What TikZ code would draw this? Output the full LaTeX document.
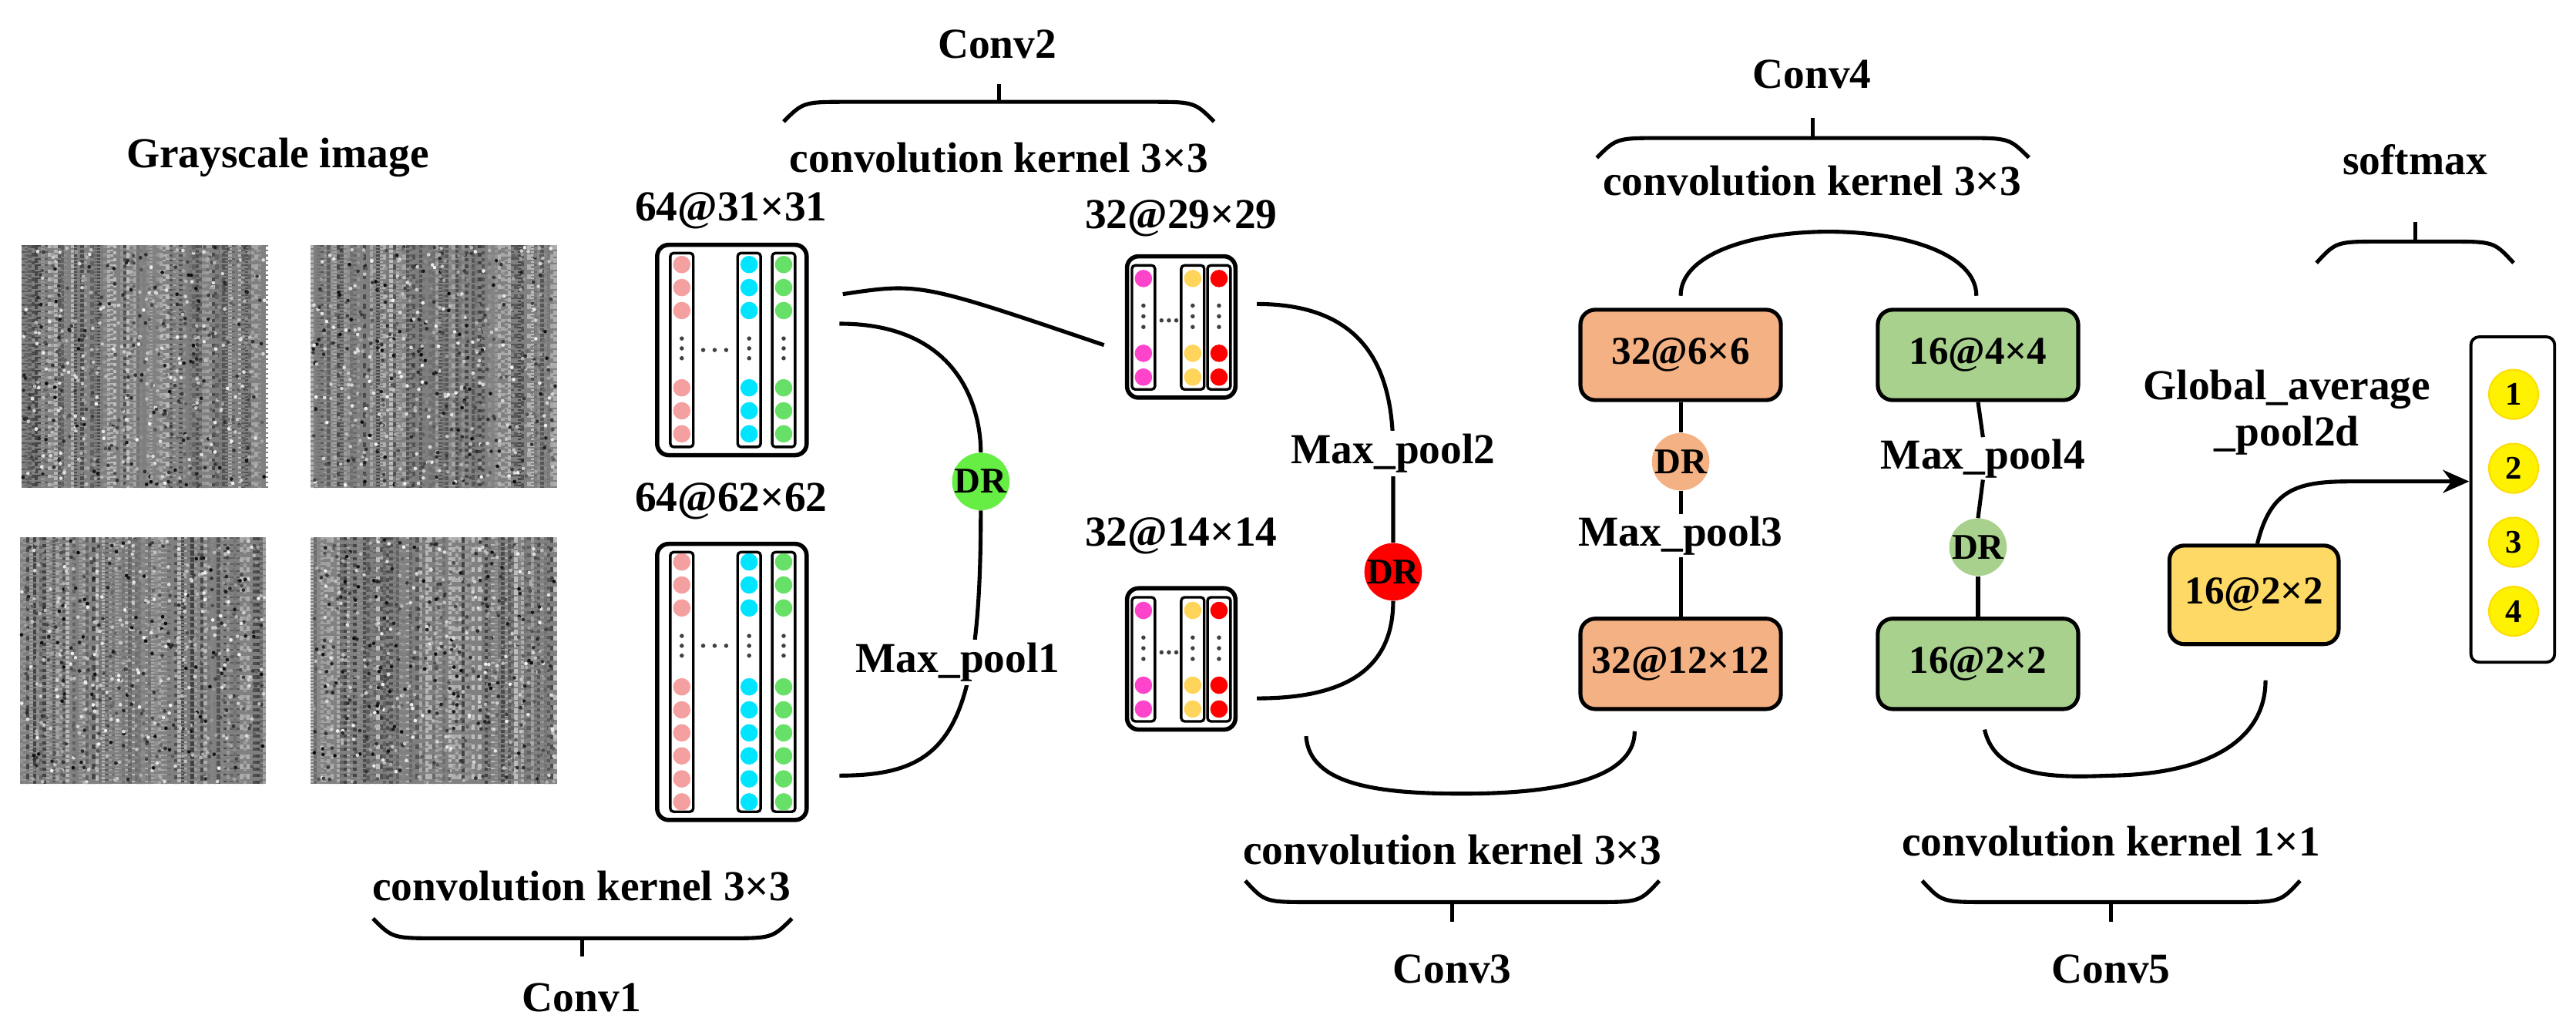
\documentclass[tikz,border=0pt]{standalone}
\usepackage{fontspec}
\setmainfont{Liberation Serif}
\usetikzlibrary{arrows.meta}
\definecolor{cpink}{HTML}{F4A0A0}
\definecolor{ccyan}{HTML}{00E5FF}
\definecolor{cgreen}{HTML}{66E066}
\definecolor{cmag}{HTML}{FF44CC}
\definecolor{cyel}{HTML}{FFD45A}
\definecolor{cred}{HTML}{FF0000}
\definecolor{corange}{HTML}{F4B183}
\definecolor{cgbox}{HTML}{A9D18E}
\definecolor{cybox}{HTML}{FFD966}
\definecolor{cdrg}{HTML}{66EE44}
\newcommand\fmcol[6]{%
  \draw[col] (#1-7,#2) rectangle (#1+7,#3);
  \foreach \yy in {#5} \fill[#4] (#1,\yy) circle (5.3pt);
  \foreach \yy in {#6} \fill[black!75] (#1,\yy) circle (1.3pt);}
\newcommand\hdots[4]{\foreach \xx in {#1,#2,#3} \fill[black!75] (\xx,#4) circle (1.3pt);}
\newcommand\bracetop[5]{% x1 x2 yflat yend ystem
  \draw[conn] (#1,#4) .. controls (#1+12,#3) .. (#1+40,#3) -- (#2-40,#3) .. controls (#2-12,#3) .. (#2,#4);
  \draw[conn] ({(#1+#2)/2},#3) -- ({(#1+#2)/2},#5);}
\newcommand\grayimg[4]{%
  \fill[black!50] (#1,#2) rectangle (#3,#4);
  \foreach \i in {0,2,...,148}{%
    \pgfmathsetmacro\g{random(25,75)}
    \pgfmathsetmacro\on{random(1,3)}
    \pgfmathsetmacro\off{random(1,3)}
    \draw[line width=2pt, black!\g, dash pattern=on \on pt off \off pt] (#1+1+\i,#2) -- (#1+1+\i,#4);
  }
  \foreach \k in {1,...,700}{%
    \pgfmathsetmacro\px{#1+1+rnd*(#3-#1-2)}
    \pgfmathsetmacro\py{#2+1+rnd*(#4-#2-2)}
    \pgfmathsetmacro\g{random(5,95)}
    \fill[black!\g] (\px,\py) circle (1.1pt);
  }}
\begin{document}
\begin{tikzpicture}[x=1pt,y=-1pt,
  lbl/.style={font=\fontsize{26}{28}\selectfont\bfseries, inner sep=1pt},
  conn/.style={line width=2.4pt},
  fmbox/.style={draw, line width=2.6pt, rounded corners=7pt, inner sep=0, fill=white},
  col/.style={draw, line width=1.6pt, rounded corners=2pt},
  dr/.style={circle, minimum size=35pt, inner sep=0, font=\fontsize{22}{24}\selectfont\bfseries},
  lay/.style={draw, line width=2.4pt, rounded corners=9pt, minimum width=122pt, minimum height=55pt, inner sep=0, font=\fontsize{24}{26}\selectfont\bfseries},
  wlbl/.style={lbl, fill=white, inner sep=2pt},
  sc/.style={circle, fill=yellow, draw=yellow!80!orange, line width=1pt, minimum size=30pt, inner sep=0, font=\fontsize{20}{22}\selectfont\bfseries}
]
\useasboundingbox (0,0) rectangle (1568,628);
\pgfmathsetseed{7}
% grayscale images
\node[lbl] (gtitle) at (169,96) {Grayscale image};
\grayimg{13}{149}{162}{297}
\grayimg{189}{149}{339}{297}
\grayimg{12}{327}{162}{477}
\grayimg{189}{327}{339}{477}

% Conv1 blocks
\node[lbl] (l1) at (445,128) {64@31×31};
\node[fmbox, minimum width=91pt, minimum height=128pt] (b1) at (445.5,213) {};
\fmcol{415}{154}{272}{cpink}{161,175,189,236,250,264}{206,212,218}
\fmcol{456}{154}{272}{ccyan}{161,175,189,236,250,264}{206,212,218}
\fmcol{477}{154}{272}{cgreen}{161,175,189,236,250,264}{206,212,218}
\hdots{428}{435}{442}{213}
\node[lbl] (l2) at (445,305) {64@62×62};
\node[fmbox, minimum width=91pt, minimum height=168pt] (b2) at (445.5,415) {};
\fmcol{415}{336}{494}{cpink}{342,356,370,418,432,446,460,474,488}{387,393,399}
\fmcol{456}{336}{494}{ccyan}{342,356,370,418,432,446,460,474,488}{387,393,399}
\fmcol{477}{336}{494}{cgreen}{342,356,370,418,432,446,460,474,488}{387,393,399}
\hdots{428}{435}{442}{393}

% Conv2 blocks
\node[lbl] (l3) at (719,133) {32@29×29};
\node[fmbox, minimum width=66pt, minimum height=86pt] (b3) at (719,199) {};
\fmcol{696}{161.5}{237}{cmag}{169.5,215,229.5}{186,192.5,199}
\fmcol{726}{161.5}{237}{cyel}{169.5,215,229.5}{186,192.5,199}
\fmcol{742}{161.5}{237}{cred}{169.5,215,229.5}{186,192.5,199}
\hdots{707}{711.5}{716}{195}
\node[lbl] (l4) at (719,326) {32@14×14};
\node[fmbox, minimum width=66pt, minimum height=86pt] (b4) at (719,401) {};
\fmcol{696}{363.5}{439}{cmag}{371.5,417,431.5}{388,394.5,401}
\fmcol{726}{363.5}{439}{cyel}{371.5,417,431.5}{388,394.5,401}
\fmcol{742}{363.5}{439}{cred}{371.5,417,431.5}{388,394.5,401}
\hdots{707}{711.5}{716}{397}

% braces and labels
\node[lbl] (k1) at (354,539) {convolution kernel 3×3};
\bracetop{227}{482}{571}{559}{582}
\node[lbl] (c1) at (354,607) {Conv1};
\node[lbl] (c2) at (607,27) {Conv2};
\bracetop{477}{739}{62}{74}{51}
\node[lbl] (k2) at (608,96) {convolution kernel 3×3};
\node[lbl] (k3) at (884,517) {convolution kernel 3×3};
\bracetop{758}{1010}{549}{536}{561}
\node[lbl] (c3) at (884,590) {Conv3};
\node[lbl] (c4) at (1103,45) {Conv4};
\bracetop{972}{1235}{84}{96}{72}
\node[lbl] (k4) at (1103,110) {convolution kernel 3×3};
\node[lbl] (k5) at (1285,512) {convolution kernel 1×1};
\bracetop{1170}{1400}{549}{536}{561}
\node[lbl] (c5) at (1285,590) {Conv5};
\node[lbl] (smx) at (1470,97) {softmax};
\bracetop{1410}{1530}{147}{160}{135}

% connectors stage 1-2
\coordinate (p1) at (513,179);
\coordinate (p2) at (672,210);
\draw[conn] (p1) .. controls (560,172) .. (p2);
\node[dr, fill=cdrg] (dr1) at (597,293) {DR};
\coordinate (p3) at (511,197);
\coordinate (p4) at (511,472);
\draw[conn] (p3) .. controls (585,197) and (597,250) .. (dr1.north);
\draw[conn] (dr1.south) .. controls (597,445) and (578,472) .. (p4);
\node[wlbl] (mp1) at (583,403) {Max\_pool1};

\coordinate (p5) at (765,185);
\coordinate (p6) at (765,425);
\node[dr, fill=cred] (dr2) at (848,348) {DR};
\draw[conn] (p5) .. controls (835,185) and (848,230) .. (848,275) -- (dr2.north);
\draw[conn] (dr2.south) .. controls (848,410) and (815,425) .. (p6);
\node[wlbl] (mp2) at (848,276) {Max\_pool2};

\coordinate (p7) at (795,448);
\coordinate (p8) at (995,445);
\draw[conn] (p7) .. controls (797,478) and (840,483) .. (890,483) .. controls (960,483) and (995,470) .. (p8);

% Conv3 / Conv4 boxes
\node[lay, fill=corange] (o1) at (1023,216) {32@6×6};
\node[lay, fill=corange] (o2) at (1023,404) {32@12×12};
\node[dr, fill=corange] (dr3) at (1023,281) {DR};
\node[lbl] (mp3) at (1023,326) {Max\_pool3};
\draw[conn] (o1.south) -- (dr3.north);
\draw[conn] (dr3.south) -- (mp3.north);
\draw[conn] (mp3.south) -- (o2.north);

\node[lay, fill=cgbox] (g1) at (1204,216) {16@4×4};
\node[lay, fill=cgbox] (g2) at (1204,404) {16@2×2};
\node[lbl] (mp4) at (1207,279) {Max\_pool4};
\node[dr, fill=cgbox] (dr4) at (1204,333) {DR};
\draw[conn] (g1.south) -- (mp4.north);
\draw[conn] (mp4.south) -- (dr4.north);
\draw[conn] (dr4.south) -- (g2.north);

\coordinate (a1) at (1023,180);
\coordinate (a2) at (1203,180);
\draw[conn] (a1) .. controls (1023,128) and (1203,128) .. (a2);

\coordinate (p9) at (1208,444);
\coordinate (p10) at (1379,414);
\draw[conn] (p9) .. controls (1215,475) and (1255,473) .. (1285,472) .. controls (1345,471) and (1379,450) .. (p10);

% Conv5 and softmax
\node[lay, fill=cybox, minimum width=103pt, minimum height=60pt] (y1) at (1372,362) {16@2×2};
\node[lbl, align=center] (gap) at (1392,251) {Global\_average\\\_pool2d};
\node[draw, line width=1.8pt, rounded corners=5pt, minimum width=51pt, minimum height=198pt, fill=white] (sm) at (1529.5,304) {};
\coordinate (ae) at (1503,293);
\draw[conn, -{Stealth[length=16pt,width=14pt]}] (1374,331) .. controls (1382,298) and (1398,293) .. (1430,293) -- (ae);
\node[sc] (s1) at (1530,240) {1};
\node[sc] (s2) at (1530,285) {2};
\node[sc] (s3) at (1530,330) {3};
\node[sc] (s4) at (1530,372) {4};
\end{tikzpicture}
\end{document}
